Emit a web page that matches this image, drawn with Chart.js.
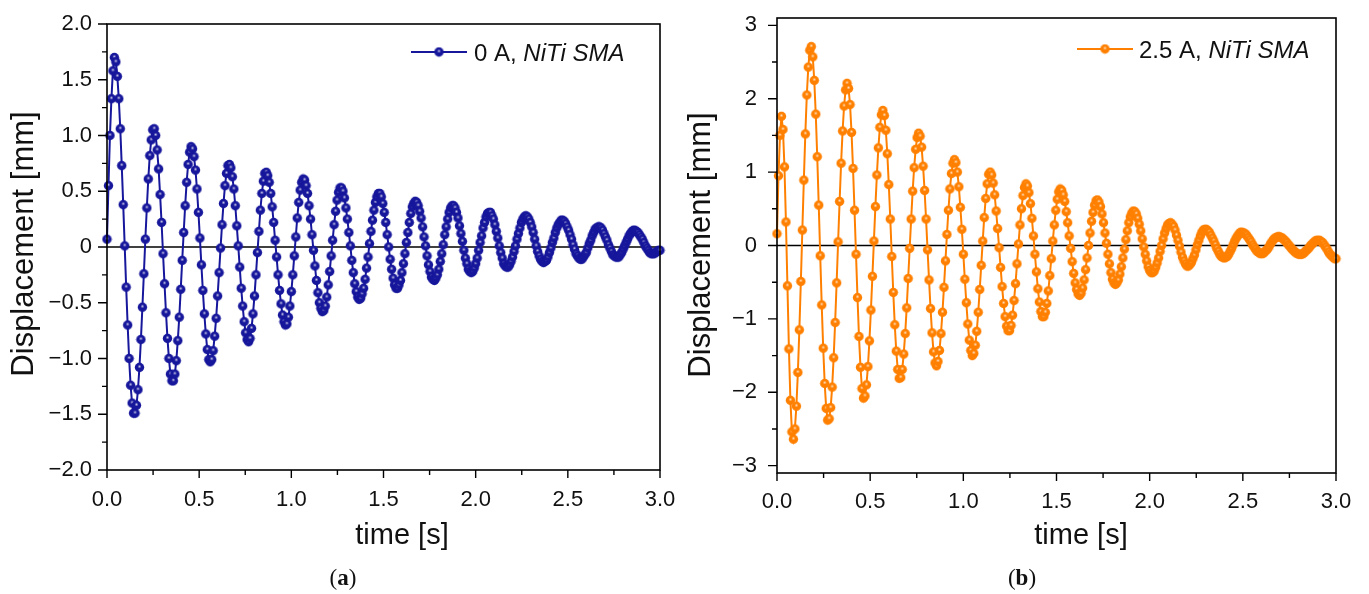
<!DOCTYPE html>
<html>
<head>
<meta charset="utf-8">
<script src="https://cdn.jsdelivr.net/npm/chart.js@4.4.1/dist/chart.umd.min.js"></script>
<style>
  body { margin: 0; background: #fff; }
  #wrap { position: relative; width: 1369px; height: 594px; }
  canvas { position: absolute; top: 0; }
</style>
</head>
<body>
<div id="wrap">
  <canvas id="chartA" width="680" height="594" style="left:0px"></canvas>
  <canvas id="chartB" width="689" height="594" style="left:680px"></canvas>
</div>
<script>
// sampling interval of the recorded signal [s]
const SAMPLE_DT = 0.008;

// displacement [mm], 0 A
const disp0A = [
  0.07, 0.55, 1.00, 1.33, 1.58, 1.70, 1.66, 1.53, 1.33, 1.06,
  0.73, 0.38, 0.01, -0.36, -0.70, -1.00, -1.24, -1.40, -1.49, -1.49,
  -1.42, -1.28, -1.08, -0.83, -0.54, -0.24, 0.07, 0.35, 0.61, 0.82,
  0.96, 1.05, 1.06, 1.00, 0.87, 0.70, 0.47, 0.22, -0.06, -0.33,
  -0.59, -0.82, -1.00, -1.14, -1.20, -1.20, -1.14, -1.02, -0.84, -0.63,
  -0.38, -0.12, 0.13, 0.37, 0.58, 0.74, 0.85, 0.90, 0.88, 0.81,
  0.69, 0.52, 0.31, 0.08, -0.16, -0.39, -0.60, -0.78, -0.92, -1.01,
  -1.03, -1.01, -0.93, -0.80, -0.64, -0.44, -0.23, -0.01, 0.20, 0.39,
  0.55, 0.66, 0.73, 0.74, 0.71, 0.63, 0.52, 0.37, 0.19, 0.01,
  -0.18, -0.37, -0.53, -0.67, -0.77, -0.83, -0.85, -0.82, -0.73, -0.60,
  -0.44, -0.25, -0.05, 0.14, 0.33, 0.48, 0.59, 0.66, 0.67, 0.64,
  0.58, 0.48, 0.36, 0.22, 0.06, -0.09, -0.25, -0.39, -0.51, -0.61,
  -0.67, -0.70, -0.69, -0.63, -0.53, -0.40, -0.25, -0.08, 0.09, 0.26,
  0.40, 0.51, 0.58, 0.61, 0.60, 0.55, 0.48, 0.37, 0.25, 0.11,
  -0.03, -0.17, -0.30, -0.41, -0.50, -0.55, -0.58, -0.57, -0.53, -0.45,
  -0.34, -0.22, -0.08, 0.06, 0.20, 0.32, 0.42, 0.49, 0.53, 0.53,
  0.50, 0.44, 0.35, 0.25, 0.13, 0.01, -0.12, -0.23, -0.33, -0.40,
  -0.45, -0.47, -0.46, -0.42, -0.37, -0.29, -0.19, -0.09, 0.03, 0.14,
  0.24, 0.33, 0.40, 0.45, 0.48, 0.48, 0.45, 0.39, 0.31, 0.22,
  0.11, 0.00, -0.11, -0.20, -0.28, -0.34, -0.37, -0.37, -0.34, -0.30,
  -0.23, -0.15, -0.06, 0.04, 0.13, 0.22, 0.30, 0.36, 0.39, 0.41,
  0.40, 0.37, 0.32, 0.26, 0.18, 0.09, 0.01, -0.08, -0.16, -0.22,
  -0.27, -0.29, -0.30, -0.28, -0.25, -0.20, -0.13, -0.06, 0.02, 0.11,
  0.18, 0.25, 0.31, 0.35, 0.37, 0.37, 0.35, 0.31, 0.26, 0.19,
  0.12, 0.05, -0.03, -0.10, -0.15, -0.20, -0.22, -0.23, -0.22, -0.19,
  -0.15, -0.10, -0.03, 0.04, 0.10, 0.17, 0.22, 0.27, 0.30, 0.31,
  0.31, 0.28, 0.25, 0.20, 0.14, 0.08, 0.01, -0.05, -0.10, -0.15,
  -0.17, -0.18, -0.18, -0.16, -0.13, -0.09, -0.04, 0.01, 0.07, 0.12,
  0.17, 0.22, 0.25, 0.27, 0.28, 0.27, 0.25, 0.22, 0.18, 0.13,
  0.07, 0.01, -0.04, -0.08, -0.11, -0.13, -0.14, -0.13, -0.12, -0.09,
  -0.05, -0.01, 0.04, 0.08, 0.13, 0.17, 0.20, 0.22, 0.24, 0.24,
  0.23, 0.21, 0.18, 0.15, 0.11, 0.07, 0.02, -0.02, -0.06, -0.08,
  -0.10, -0.11, -0.11, -0.09, -0.07, -0.05, -0.01, 0.03, 0.06, 0.10,
  0.13, 0.16, 0.17, 0.18, 0.18, 0.17, 0.15, 0.12, 0.09, 0.06,
  0.02, -0.01, -0.04, -0.07, -0.08, -0.09, -0.09, -0.09, -0.07, -0.05,
  -0.02, 0.01, 0.04, 0.07, 0.10, 0.12, 0.14, 0.15, 0.15, 0.14,
  0.13, 0.11, 0.09, 0.07, 0.04, 0.01, -0.01, -0.03, -0.05, -0.06,
  -0.06, -0.06, -0.05, -0.04, -0.03, -0.03
];

// displacement [mm], 2.5 A
const disp25A = [
  0.16, 0.95, 1.50, 1.76, 1.58, 1.07, 0.32, -0.55, -1.41, -2.11,
  -2.54, -2.64, -2.50, -2.19, -1.73, -1.15, -0.49, 0.21, 0.89, 1.52,
  2.05, 2.43, 2.66, 2.71, 2.57, 2.25, 1.79, 1.21, 0.55, -0.14,
  -0.81, -1.40, -1.88, -2.22, -2.38, -2.36, -2.21, -1.93, -1.53, -1.05,
  -0.51, 0.05, 0.60, 1.12, 1.56, 1.90, 2.12, 2.21, 2.14, 1.92,
  1.54, 1.05, 0.48, -0.12, -0.71, -1.24, -1.66, -1.95, -2.08, -2.05,
  -1.90, -1.65, -1.30, -0.88, -0.42, 0.06, 0.53, 0.96, 1.33, 1.61,
  1.78, 1.84, 1.77, 1.57, 1.25, 0.83, 0.36, -0.15, -0.64, -1.08,
  -1.44, -1.69, -1.81, -1.80, -1.69, -1.48, -1.20, -0.85, -0.45, -0.04,
  0.36, 0.74, 1.06, 1.31, 1.47, 1.53, 1.49, 1.34, 1.08, 0.75,
  0.36, -0.06, -0.47, -0.86, -1.19, -1.45, -1.60, -1.64, -1.58, -1.43,
  -1.20, -0.91, -0.57, -0.21, 0.15, 0.48, 0.77, 0.98, 1.12, 1.17,
  1.13, 1.00, 0.80, 0.52, 0.22, -0.12, -0.46, -0.78, -1.07, -1.29,
  -1.43, -1.50, -1.47, -1.36, -1.17, -0.91, -0.60, -0.27, 0.06, 0.38,
  0.64, 0.84, 0.97, 1.00, 0.96, 0.85, 0.69, 0.47, 0.23, -0.03,
  -0.30, -0.56, -0.79, -0.97, -1.10, -1.16, -1.16, -1.09, -0.95, -0.75,
  -0.52, -0.25, 0.02, 0.28, 0.50, 0.68, 0.79, 0.84, 0.81, 0.72,
  0.57, 0.37, 0.13, -0.12, -0.36, -0.59, -0.77, -0.90, -0.97, -0.97,
  -0.91, -0.79, -0.62, -0.41, -0.18, 0.06, 0.28, 0.48, 0.63, 0.73,
  0.77, 0.75, 0.69, 0.60, 0.46, 0.31, 0.13, -0.04, -0.22, -0.38,
  -0.51, -0.60, -0.66, -0.68, -0.65, -0.58, -0.47, -0.33, -0.17, 0.00,
  0.17, 0.33, 0.45, 0.55, 0.61, 0.62, 0.59, 0.53, 0.43, 0.31,
  0.17, 0.03, -0.12, -0.25, -0.37, -0.46, -0.51, -0.53, -0.51, -0.47,
  -0.39, -0.29, -0.17, -0.05, 0.08, 0.20, 0.31, 0.39, 0.44, 0.47,
  0.46, 0.43, 0.37, 0.29, 0.20, 0.09, -0.02, -0.12, -0.21, -0.29,
  -0.34, -0.37, -0.37, -0.35, -0.30, -0.24, -0.17, -0.08, 0.00, 0.09,
  0.17, 0.23, 0.28, 0.30, 0.31, 0.29, 0.26, 0.21, 0.14, 0.07,
  -0.01, -0.09, -0.16, -0.21, -0.25, -0.28, -0.28, -0.26, -0.23, -0.18,
  -0.13, -0.06, 0.01, 0.07, 0.13, 0.18, 0.21, 0.22, 0.22, 0.20,
  0.18, 0.14, 0.10, 0.06, 0.01, -0.04, -0.08, -0.12, -0.15, -0.16,
  -0.17, -0.16, -0.15, -0.12, -0.08, -0.04, 0.01, 0.06, 0.10, 0.13,
  0.16, 0.18, 0.18, 0.17, 0.16, 0.14, 0.11, 0.08, 0.05, 0.01,
  -0.02, -0.05, -0.08, -0.09, -0.11, -0.11, -0.11, -0.09, -0.07, -0.05,
  -0.02, 0.02, 0.05, 0.08, 0.10, 0.11, 0.12, 0.12, 0.11, 0.10,
  0.08, 0.06, 0.04, 0.01, -0.01, -0.04, -0.06, -0.08, -0.10, -0.11,
  -0.12, -0.12, -0.12, -0.11, -0.09, -0.07, -0.05, -0.03, 0.00, 0.02,
  0.04, 0.06, 0.07, 0.07, 0.07, 0.05, 0.04, 0.01, -0.02, -0.05,
  -0.09, -0.12, -0.14, -0.16, -0.18, -0.18
];

// time stamps of the samples
const timeS = disp0A.map((_, i) => +(i * SAMPLE_DT).toFixed(3));

// axis ticks
const xTicks = [0, 0.5, 1, 1.5, 2, 2.5, 3];
const xMinor = [0.25, 0.75, 1.25, 1.75, 2.25, 2.75];
const yTicksA = [-2, -1.5, -1, -0.5, 0, 0.5, 1, 1.5, 2];
const yMinorA = [-1.75, -1.25, -0.75, -0.25, 0.25, 0.75, 1.25, 1.75];
const yTicksB = [-3, -2, -1, 0, 1, 2, 3];
const yMinorB = [-2.5, -1.5, -0.5, 0.5, 1.5, 2.5];

Chart.defaults.font.family = "'Liberation Sans', Arial, sans-serif";
Chart.defaults.color = '#111';

const minus = s => s.replace('-', '\u2212');

// little shaded ball, like the Origin markers
function makeMarker(color, r) {
  const c = document.createElement('canvas');
  const s = 11;
  c.width = c.height = s;
  const g = c.getContext('2d');
  g.fillStyle = color;
  g.beginPath();
  g.arc(s / 2, s / 2, r, 0, Math.PI * 2);
  g.fill();
  const grad = g.createRadialGradient(s / 2, s / 2 - 0.9, 0, s / 2, s / 2 - 0.9, 1.9);
  grad.addColorStop(0, 'rgba(255,255,255,0.8)');
  grad.addColorStop(1, 'rgba(255,255,255,0)');
  g.fillStyle = grad;
  g.beginPath();
  g.arc(s / 2, s / 2 - 0.9, 1.9, 0, Math.PI * 2);
  g.fill();
  return c;
}

function buildPanel(id, p) {
  const marker = makeMarker(p.color, 4.7);

  const decor = {
    id: 'decor',
    beforeDatasetsDraw(chart) {
      const { ctx, chartArea: a, scales: { y } } = chart;
      const y0 = y.getPixelForValue(0);
      ctx.save();
      ctx.strokeStyle = '#000';
      ctx.lineWidth = 1.5;
      ctx.beginPath();
      ctx.moveTo(a.left, y0);
      ctx.lineTo(a.right, y0);
      ctx.stroke();
      ctx.restore();
    },
    afterDraw(chart) {
      const { ctx, chartArea: a, scales: { x, y } } = chart;
      ctx.save();
      ctx.strokeStyle = '#000';
      ctx.lineWidth = 1.6;
      ctx.strokeRect(a.left, a.top, a.right - a.left, a.bottom - a.top);

      // outward tick marks, major and minor
      ctx.lineWidth = 1.4;
      ctx.beginPath();
      xTicks.forEach(v => { const px = x.getPixelForValue(v); ctx.moveTo(px, a.bottom); ctx.lineTo(px, a.bottom + 8); });
      xMinor.forEach(v => { const px = x.getPixelForValue(v); ctx.moveTo(px, a.bottom); ctx.lineTo(px, a.bottom + 5); });
      p.yTicks.forEach(v => { const py = y.getPixelForValue(v); ctx.moveTo(a.left, py); ctx.lineTo(a.left - 9, py); });
      p.yMinor.forEach(v => { const py = y.getPixelForValue(v); ctx.moveTo(a.left, py); ctx.lineTo(a.left - 5, py); });
      ctx.stroke();

      // legend
      const L = p.legend;
      ctx.strokeStyle = p.color;
      ctx.lineWidth = 2;
      ctx.beginPath();
      ctx.moveTo(L.x1, L.y);
      ctx.lineTo(L.x2, L.y);
      ctx.stroke();
      ctx.drawImage(marker, (L.x1 + L.x2) / 2 - 5.5, L.y - 5.5);
      ctx.fillStyle = '#111';
      ctx.textBaseline = 'alphabetic';
      ctx.textAlign = 'left';
      ctx.font = "24px 'Liberation Sans', Arial, sans-serif";
      ctx.fillText(p.label, L.tx, L.base);
      const w = ctx.measureText(p.label).width;
      ctx.font = "italic 24px 'Liberation Sans', Arial, sans-serif";
      ctx.fillText('NiTi SMA', L.tx + w, L.base);

      // axis titles
      ctx.textAlign = 'center';
      ctx.textBaseline = 'middle';
      ctx.font = "29px 'Liberation Sans', Arial, sans-serif";
      ctx.fillText('time [s]', p.xTitle[0], p.xTitle[1]);
      ctx.save();
      ctx.translate(p.yTitle[0], p.yTitle[1]);
      ctx.rotate(-Math.PI / 2);
      ctx.font = "31px 'Liberation Sans', Arial, sans-serif";
      ctx.fillText('Displacement [mm]', 0, 0);
      ctx.restore();

      // panel tag (a)/(b), letter in bold
      ctx.font = "23px 'Liberation Serif', 'Times New Roman', serif";
      const wp = ctx.measureText('(').width;
      ctx.font = "bold 23px 'Liberation Serif', 'Times New Roman', serif";
      const wl = ctx.measureText(p.tag).width;
      const tx = p.tagPos[0] - (wp * 2 + wl) / 2;
      ctx.textAlign = 'left';
      ctx.font = "23px 'Liberation Serif', 'Times New Roman', serif";
      ctx.fillText('(', tx, p.tagPos[1]);
      ctx.font = "bold 23px 'Liberation Serif', 'Times New Roman', serif";
      ctx.fillText(p.tag, tx + wp, p.tagPos[1]);
      ctx.font = "23px 'Liberation Serif', 'Times New Roman', serif";
      ctx.fillText(')', tx + wp + wl, p.tagPos[1]);
      ctx.restore();
    }
  };

  return new Chart(document.getElementById(id), {
    type: 'line',
    data: {
      datasets: [{
        label: p.label + 'NiTi SMA',
        data: p.values.map((v, i) => ({ x: timeS[i], y: v })),
        borderColor: p.color,
        borderWidth: 2,
        pointStyle: marker,
        pointRadius: 4.7,
        tension: 0,
        fill: false,
        clip: false
      }]
    },
    options: {
      responsive: false,
      animation: false,
      devicePixelRatio: 1,
      layout: { padding: p.padding },
      plugins: { legend: { display: false }, tooltip: { enabled: false } },
      scales: {
        x: {
          type: 'linear',
          min: 0,
          max: 3,
          afterBuildTicks: s => { s.ticks = xTicks.map(v => ({ value: v })); },
          afterFit: s => { s.height = p.xAxisH; s.paddingLeft = 0; s.paddingRight = 0; },
          grid: { display: false, drawTicks: false },
          border: { display: false },
          ticks: {
            padding: p.xPad,
            maxRotation: 0,
            autoSkip: false,
            font: { size: 22 },
            color: '#111',
            callback: v => v.toFixed(1)
          }
        },
        y: {
          min: p.yMin,
          max: p.yMax,
          afterBuildTicks: s => { s.ticks = p.yTicks.map(v => ({ value: v })); },
          afterFit: s => { s.width = p.yAxisW; s.paddingTop = 0; s.paddingBottom = 0; },
          grid: { display: false, drawTicks: false },
          border: { display: false },
          ticks: {
            padding: p.yPad,
            autoSkip: false,
            font: { size: 22 },
            color: '#111',
            callback: p.yFmt
          }
        }
      }
    },
    plugins: [decor]
  });
}

buildPanel('chartA', {
  values: disp0A,
  color: '#17179c',
  label: '0 A, ',
  yMin: -2, yMax: 2,
  yTicks: yTicksA, yMinor: yMinorA,
  yFmt: v => v === 0 ? '0' : minus(v.toFixed(1)),
  padding: { top: 24, right: 20, left: 0, bottom: 0 },
  yAxisW: 107, xAxisH: 124, yPad: 15, xPad: 17,
  legend: { x1: 411, x2: 467, y: 52, tx: 474, base: 61 },
  xTitle: [402, 536], yTitle: [24, 244],
  tag: 'a', tagPos: [343, 579]
});

buildPanel('chartB', {
  values: disp25A,
  color: '#ff8000',
  label: '2.5 A, ',
  yMin: -3.1, yMax: 3.1,
  yTicks: yTicksB, yMinor: yMinorB,
  yFmt: v => minus(String(v)),
  padding: { top: 18, right: 33, left: 0, bottom: 0 },
  yAxisW: 97, xAxisH: 121, yPad: 20, xPad: 16,
  legend: { x1: 397, x2: 453, y: 49, tx: 459, base: 58 },
  xTitle: [401, 536], yTitle: [21, 245],
  tag: 'b', tagPos: [342, 579]
});
</script>
</body>
</html>
